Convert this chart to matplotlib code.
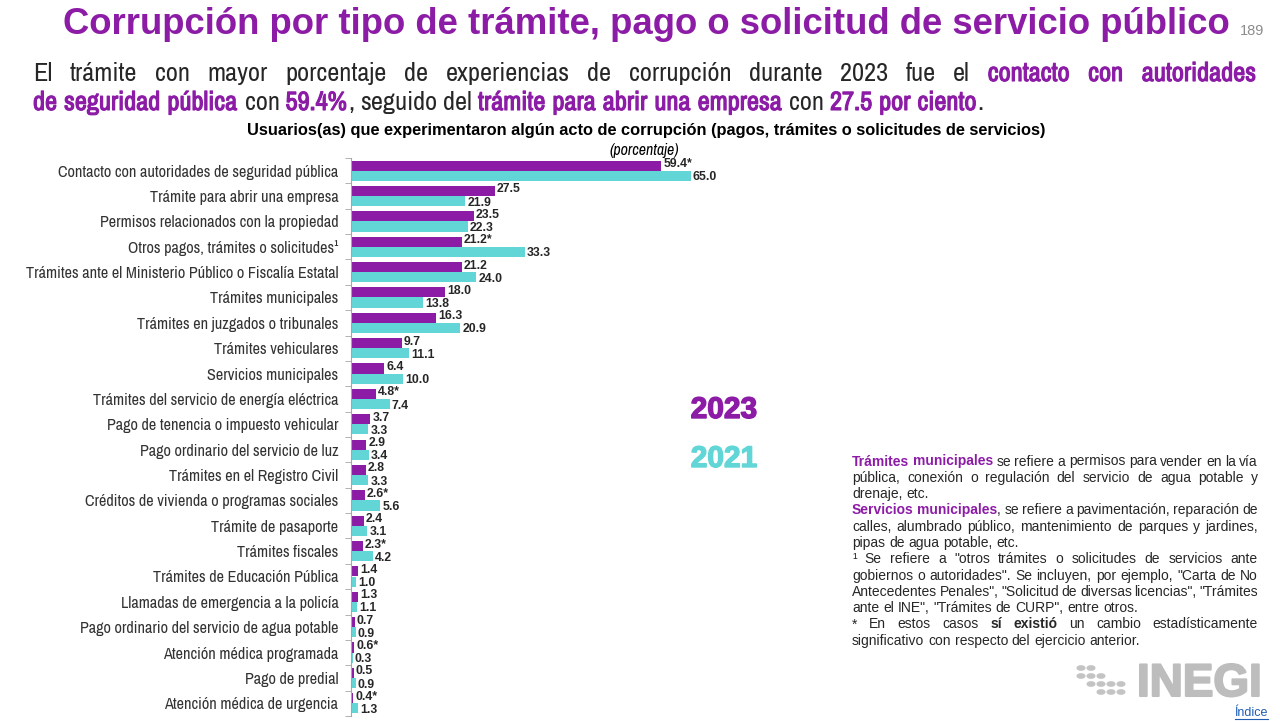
import matplotlib
matplotlib.use("Agg")
import matplotlib.pyplot as plt
import numpy as np
from matplotlib import font_manager
from matplotlib import patheffects as pe
from matplotlib.lines import Line2D
from matplotlib.patches import Circle

# Data
categories = [
    "Contacto con autoridades de seguridad pública",
    "Trámite para abrir una empresa",
    "Permisos relacionados con la propiedad",
    "Otros pagos, trámites o solicitudes¹",
    "Trámites ante el Ministerio Público o Fiscalía Estatal",
    "Trámites municipales",
    "Trámites en juzgados o tribunales",
    "Trámites vehiculares",
    "Servicios municipales",
    "Trámites del servicio de energía eléctrica",
    "Pago de tenencia o impuesto vehicular",
    "Pago ordinario del servicio de luz",
    "Trámites en el Registro Civil",
    "Créditos de vivienda o programas sociales",
    "Trámite de pasaporte",
    "Trámites fiscales",
    "Trámites de Educación Pública",
    "Llamadas de emergencia a la policía",
    "Pago ordinario del servicio de agua potable",
    "Atención médica programada",
    "Pago de predial",
    "Atención médica de urgencia",
]
v2023 = [59.4, 27.5, 23.5, 21.2, 21.2, 18.0, 16.3, 9.7, 6.4, 4.8, 3.7,
         2.9, 2.8, 2.6, 2.4, 2.3, 1.4, 1.3, 0.7, 0.6, 0.5, 0.4]
v2021 = [65.0, 21.9, 22.3, 33.3, 24.0, 13.8, 20.9, 11.1, 10.0, 7.4, 3.3,
         3.4, 3.3, 5.6, 3.1, 4.2, 1.0, 1.1, 0.9, 0.3, 0.9, 1.3]
marks2023 = ["*", "", "", "*", "", "", "", "", "", "*", "",
             "", "", "*", "", "*", "", "", "", "*", "", "*"]

PURPLE = "#8C1BA6"
TEAL = "#62D6D6"
DARK = "#262626"
ARIAL = "Liberation Sans"

# look for a narrow face, fall back to Liberation Sans
NARROW = ARIAL
names = sorted({f.name for f in font_manager.fontManager.ttflist})
narrow_named = [nm for nm in names if "Narrow" in nm or "Condensed" in nm]
if narrow_named:
    pref = [nm for nm in narrow_named if "Liberation" in nm or "Arial" in nm]
    NARROW = (pref or narrow_named)[0]


def wnum(wt):
    return wt if isinstance(wt, int) else font_manager.weight_dict.get(wt, 400)


HAS_BOLD = any(f.name == NARROW and wnum(f.weight) >= 600
               for f in font_manager.fontManager.ttflist)


def bold_kw(color, lw=0.7):
    # bold in the narrow face: real bold if present, otherwise a thin stroke
    if HAS_BOLD:
        return dict(fontfamily=NARROW, fontweight="bold")
    return dict(fontfamily=NARROW,
                path_effects=[pe.withStroke(linewidth=lw, foreground=color)])


W, H = 1280, 721
fig = plt.figure(figsize=(12.8, 7.21), dpi=100)
fig.patch.set_facecolor("white")
r = fig.canvas.get_renderer()


def fx(px):
    return px / W


def fy(py):
    return 1 - py / H


def fit(t, target):
    w = t.get_window_extent(r).width
    t.set_fontsize(t.get_fontsize() * target / w)


# Bar chart
n = len(categories)
ax = fig.add_axes([fx(351), fy(716), 418 / W, (716 - 158) / H])
y = np.arange(n)
h = 0.4
ax.barh(y - h / 2, v2023, height=h, color=PURPLE)
ax.barh(y + h / 2, v2021, height=h, color=TEAL)
ax.set_xlim(0, 80)
ax.set_ylim(n - 0.5, -0.5)
for s in ["top", "right", "bottom"]:
    ax.spines[s].set_visible(False)
ax.spines["left"].set_color("#A6A6A6")
ax.set_xticks([])
ax.set_yticks(y)
ax.set_yticklabels(categories, fontsize=11, color="#333333", fontfamily=NARROW)
ax.tick_params(axis="y", which="major", length=0, pad=9)
ax.set_yticks(np.arange(-0.5, n), minor=True)
ax.tick_params(axis="y", which="minor", length=4, color="#A6A6A6")

# size the category labels so the longest spans like the reference
lw = max(lb.get_window_extent(r).width for lb in ax.get_yticklabels())
lsize = 11 * 313 / lw
for lb in ax.get_yticklabels():
    lb.set_fontsize(lsize)

for i in range(n):
    ax.text(v2023[i] + 0.4, y[i] - h / 2 - 0.06, f"{v2023[i]:.1f}{marks2023[i]}",
            va="center", ha="left", fontsize=8.8, fontweight="bold",
            fontfamily=ARIAL, color=DARK)
    ax.text(v2021[i] + 0.4, y[i] + h / 2 + 0.06, f"{v2021[i]:.1f}",
            va="center", ha="left", fontsize=8.8, fontweight="bold",
            fontfamily=ARIAL, color=DARK)

# Title
t = fig.text(fx(646), fy(25), "Corrupción por tipo de trámite, pago o solicitud de servicio público",
             ha="center", va="center", fontsize=27, fontweight="bold",
             fontfamily=ARIAL, color=PURPLE)
fit(t, 1168)
fig.text(fx(1240), fy(31), "189", ha="left", va="center", fontsize=10.5,
         fontfamily=ARIAL, color="#8C8C8C")


def draw_line(words, x0, ypx, width, size, family, justify=True, use_stroke=False):
    # words: list of list of (text, color, weight)
    arts = []
    widths = []
    for word in words:
        parts = []
        ww = 0
        for txt, col, wt in word:
            if wt == "bold" and use_stroke:
                kw = bold_kw(col, 0.8)
            else:
                kw = dict(fontfamily=family, fontweight=wt)
            tt = fig.text(0, 0, txt, fontsize=size, color=col,
                          va="baseline", ha="left", **kw)
            bw = tt.get_window_extent(r).width
            if wt == "bold" and use_stroke and not HAS_BOLD:
                bw += 1
            parts.append((tt, bw))
            ww += bw
        arts.append(parts)
        widths.append(ww)
    probe = fig.text(0, 0, "a a", fontsize=size, fontfamily=family)
    probe2 = fig.text(0, 0, "aa", fontsize=size, fontfamily=family)
    sp = probe.get_window_extent(r).width - probe2.get_window_extent(r).width
    probe.remove()
    probe2.remove()
    if justify and len(words) > 1:
        gap = (width - sum(widths)) / (len(words) - 1)
    else:
        gap = sp
    x = x0
    for parts, ww in zip(arts, widths):
        xx = x
        for tt, bw in parts:
            tt.set_position((fx(xx), fy(ypx)))
            xx += bw
        x += ww + gap


def words_of(segments):
    # split into words, keeping pieces that touch without a space together
    words = [[]]
    for txt, col, wt in segments:
        pieces = txt.split(" ")
        for k, p in enumerate(pieces):
            if k > 0:
                words.append([])
            if p:
                words[-1].append((p, col, wt))
    return [w for w in words if w]


N, B = "normal", "bold"
sub1 = [("El trámite con mayor porcentaje de experiencias de corrupción durante 2023 fue el ", DARK, N),
        ("contacto con autoridades", PURPLE, B)]
sub2 = [("de seguridad pública", PURPLE, B), (" con ", DARK, N), ("59.4%", PURPLE, B),
        (", seguido del ", DARK, N), ("trámite para abrir una empresa", PURPLE, B),
        (" con ", DARK, N), ("27.5 por ciento", PURPLE, B), (".", DARK, N)]
draw_line(words_of(sub1), 33, 81, 1224, 19, NARROW, True, True)
draw_line(words_of(sub2), 33, 110, 1224, 19, NARROW, False, True)

t = fig.text(fx(646), fy(131), "Usuarios(as) que experimentaron algún acto de corrupción (pagos, trámites o solicitudes de servicios)",
             ha="center", va="center", fontsize=12, fontweight="bold",
             fontfamily=ARIAL, color="black")
fit(t, 795)
fig.text(fx(644), fy(151), "(porcentaje)", ha="center", va="center", fontsize=11.5,
         fontstyle="italic", fontfamily=NARROW, color="black")

# Year labels
for txt, yy, col in [("2023", 410, PURPLE), ("2021", 459, TEAL)]:
    fig.text(fx(724), fy(yy), txt, ha="center", va="center", fontsize=21.5,
             fontweight="heavy", fontfamily=ARIAL, color=col,
             path_effects=[pe.withStroke(linewidth=1.0, foreground=col)])

# Notes
notes = [
    ([("Trámites municipales", PURPLE, B), (" se refiere a permisos para vender en la vía", DARK, N)], True),
    ([("pública, conexión o regulación del servicio de agua potable y", DARK, N)], True),
    ([("drenaje, etc.", DARK, N)], False),
    ([("Servicios municipales", PURPLE, B), (", se refiere a pavimentación, reparación de", DARK, N)], True),
    ([("calles, alumbrado público, mantenimiento de parques y jardines,", DARK, N)], True),
    ([("pipas de agua potable, etc.", DARK, N)], False),
    ([("¹ Se refiere a \"otros trámites o solicitudes de servicios ante", DARK, N)], True),
    ([("gobiernos o autoridades\". Se incluyen, por ejemplo, \"Carta de No", DARK, N)], True),
    ([("Antecedentes Penales\", \"Solicitud de diversas licencias\", \"Trámites", DARK, N)], True),
    ([("ante el INE\", \"Trámites de CURP\", entre otros.", DARK, N)], False),
    ([("* En estos casos ", DARK, N), ("sí existió", DARK, B), (" un cambio estadísticamente", DARK, N)], True),
    ([("significativo con respecto del ejercicio anterior.", DARK, N)], False),
]
for k, (segs, just) in enumerate(notes):
    draw_line(words_of(segs), 852, 465.5 + k * 16.3, 406, 10, ARIAL, just)

# INEGI logo
t = fig.text(fx(1262), fy(684), "INEGI", ha="right", va="center", fontsize=33,
             fontweight="heavy", fontfamily=ARIAL, color="#BDBDBD",
             path_effects=[pe.withStroke(linewidth=1.5, foreground="#BDBDBD")])
fit(t, 125)
dot_cols = [(1081, [668, 676]), (1091, [668, 676, 684]), (1101, [676, 684, 692]),
            (1111, [684, 692]), (1121, [684, 692])]
for cx, rows in dot_cols:
    for cy in rows:
        fig.add_artist(Circle((fx(cx), fy(cy)), 3.8 / W, transform=fig.transFigure,
                              color="#C4C4C4"))
t = fig.text(fx(1268), fy(713), "Índice", ha="right", va="center", fontsize=9,
             fontfamily=ARIAL, color="#1F5DB5")
bb = t.get_window_extent(r)
fig.add_artist(Line2D([bb.x0 / W, bb.x1 / W], [fy(719), fy(719)],
                      transform=fig.transFigure, color="#1F5DB5", lw=0.8))

fig.savefig("out.png", dpi=100, facecolor="white")
